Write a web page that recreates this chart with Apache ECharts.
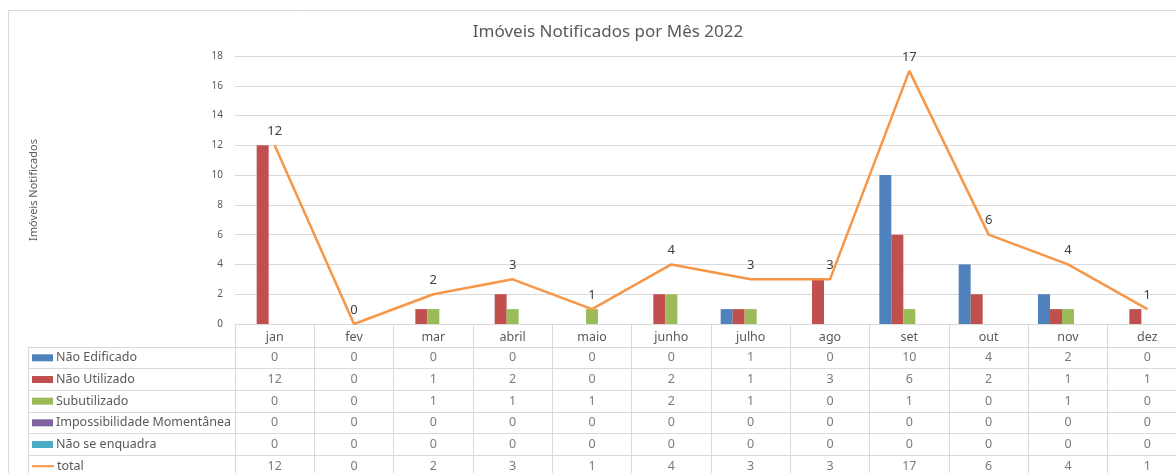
<!DOCTYPE html>
<html>
<head>
<meta charset="utf-8">
<script src="https://cdn.jsdelivr.net/npm/echarts@6/dist/echarts.min.js"></script>
<style>
  html, body { margin: 0; padding: 0; background: #fff; overflow: hidden; }
  #main { width: 1176px; height: 473px; }
</style>
</head>
<body>
<div id="main"></div>
<script>
// dados do gráfico
var meses = ['jan', 'fev', 'mar', 'abril', 'maio', 'junho', 'julho', 'ago', 'set', 'out', 'nov', 'dez'];
var naoEdificado = [0, 0, 0, 0, 0, 0, 1, 0, 10, 4, 2, 0];
var naoUtilizado = [12, 0, 1, 2, 0, 2, 1, 3, 6, 2, 1, 1];
var subutilizado = [0, 0, 1, 1, 1, 2, 1, 0, 1, 0, 1, 0];
var impossibilidade = [0, 0, 0, 0, 0, 0, 0, 0, 0, 0, 0, 0];
var naoSeEnquadra = [0, 0, 0, 0, 0, 0, 0, 0, 0, 0, 0, 0];
var total = [12, 0, 2, 3, 1, 4, 3, 3, 17, 6, 4, 1];
var yTicks = [0, 2, 4, 6, 8, 10, 12, 14, 16, 18];

var nomes = ['Não Edificado', 'Não Utilizado', 'Subutilizado', 'Impossibilidade Momentânea', 'Não se enquadra', 'total'];
var cores = ['#4F81BD', '#C0504D', '#9BBB59', '#8064A2', '#4BACC6', '#F79646'];
var linhas = [naoEdificado, naoUtilizado, subutilizado, impossibilidade, naoSeEnquadra, total];

var fonte = '"Noto Sans", sans-serif';
var cinza = '#d9d9d9';
var texto = '#595959';

// células da tabela
var celulas = [];
linhas.forEach(function (arr, r) {
  arr.forEach(function (v, c) {
    celulas.push([c, r, v]);
  });
});

// legenda dentro da tabela (rich text)
var rich = { t: { fontSize: 12.5, color: texto, fontFamily: fonte, padding: [0, 0, 0, 3] } };
cores.forEach(function (cor, i) {
  rich['s' + i] = i === 5
    ? { width: 22, height: 2, backgroundColor: cor }
    : { width: 21, height: 7, backgroundColor: cor };
});

var barras = [];
for (var i = 0; i < 5; i++) {
  barras.push({
    name: nomes[i],
    type: 'bar',
    xAxisIndex: 0,
    yAxisIndex: 0,
    data: linhas[i],
    barWidth: 12,
    barGap: '0%',
    itemStyle: { color: cores[i] },
    silent: true
  });
}

var myChart = echarts.init(document.getElementById('main'));
var option = {
  animation: false,
  backgroundColor: '#fff',
  textStyle: { fontFamily: fonte },
  title: {
    text: 'Imóveis Notificados por Mês 2022',
    left: 603,
    textAlign: 'center',
    top: 19,
    textStyle: { fontSize: 17, fontWeight: 'normal', color: texto, fontFamily: fonte }
  },
  graphic: [{
    type: 'rect',
    shape: { x: 8.5, y: 10.5, width: 1300, height: 600 },
    style: { fill: 'none', stroke: cinza, lineWidth: 1 },
    silent: true
  }],
  grid: [
    { left: 235, width: 952, top: 56, height: 268, outerBoundsMode: 'none', containLabel: false },
    { left: 235, width: 952, top: 347, height: 130, outerBoundsMode: 'none', containLabel: false }
  ],
  xAxis: [
    {
      gridIndex: 0,
      type: 'category',
      data: meses,
      axisLine: { lineStyle: { color: cinza } },
      axisTick: { show: true, length: 23, interval: 0, lineStyle: { color: cinza } },
      axisLabel: { fontSize: 12.5, color: texto, margin: 7, fontFamily: fonte }
    },
    {
      gridIndex: 1,
      type: 'category',
      data: meses,
      position: 'top',
      axisLine: { show: true, lineStyle: { color: cinza } },
      axisTick: { show: false },
      axisLabel: { show: false },
      splitLine: { show: true, interval: 0, lineStyle: { color: cinza } }
    }
  ],
  yAxis: [
    {
      gridIndex: 0,
      type: 'value',
      min: 0,
      max: 18,
      interval: 2,
      name: 'Imóveis Notificados',
      nameLocation: 'middle',
      nameGap: 196,
      nameRotate: 90,
      nameTextStyle: { fontSize: 11, color: texto, fontFamily: fonte },
      axisLine: { show: false },
      axisTick: { show: false },
      axisLabel: {
        fontSize: 10, color: texto, margin: 12, fontFamily: fonte,
        formatter: function (v) { return yTicks.indexOf(v) >= 0 ? String(v) : ''; }
      },
      splitLine: { lineStyle: { color: cinza } }
    },
    {
      gridIndex: 1,
      type: 'category',
      inverse: true,
      data: nomes,
      axisLine: { show: true, lineStyle: { color: cinza } },
      axisTick: { show: true, length: 207, interval: 0, lineStyle: { color: cinza } },
      axisLabel: {
        align: 'left',
        margin: 203,
        interval: 0,
        formatter: function (v, idx) {
          return '{s' + idx + '|}{t|' + v + '}';
        },
        rich: rich
      },
      splitLine: { show: true, interval: 0, lineStyle: { color: cinza } }
    },
    {
      gridIndex: 1,
      type: 'category',
      inverse: true,
      data: nomes,
      position: 'left',
      offset: 207,
      axisLine: { show: true, lineStyle: { color: cinza } },
      axisTick: { show: false },
      axisLabel: { show: false }
    }
  ],
  series: barras.concat([
    {
      name: 'total',
      type: 'line',
      xAxisIndex: 0,
      yAxisIndex: 0,
      data: total,
      symbol: 'circle',
      symbolSize: 1,
      showSymbol: true,
      lineStyle: { color: cores[5], width: 2.5 },
      itemStyle: { color: cores[5] },
      label: {
        show: true,
        position: 'top',
        distance: 7,
        fontSize: 13,
        color: '#404040',
        fontFamily: fonte
      },
      silent: true
    },
    {
      name: 'tabela',
      type: 'scatter',
      xAxisIndex: 1,
      yAxisIndex: 1,
      data: celulas,
      symbolSize: 0,
      label: {
        show: true,
        position: 'inside',
        fontSize: 12.5,
        color: texto,
        fontFamily: fonte,
        formatter: function (p) { return String(p.value[2]); }
      },
      silent: true
    }
  ])
};
myChart.setOption(option);
</script>
</body>
</html>
